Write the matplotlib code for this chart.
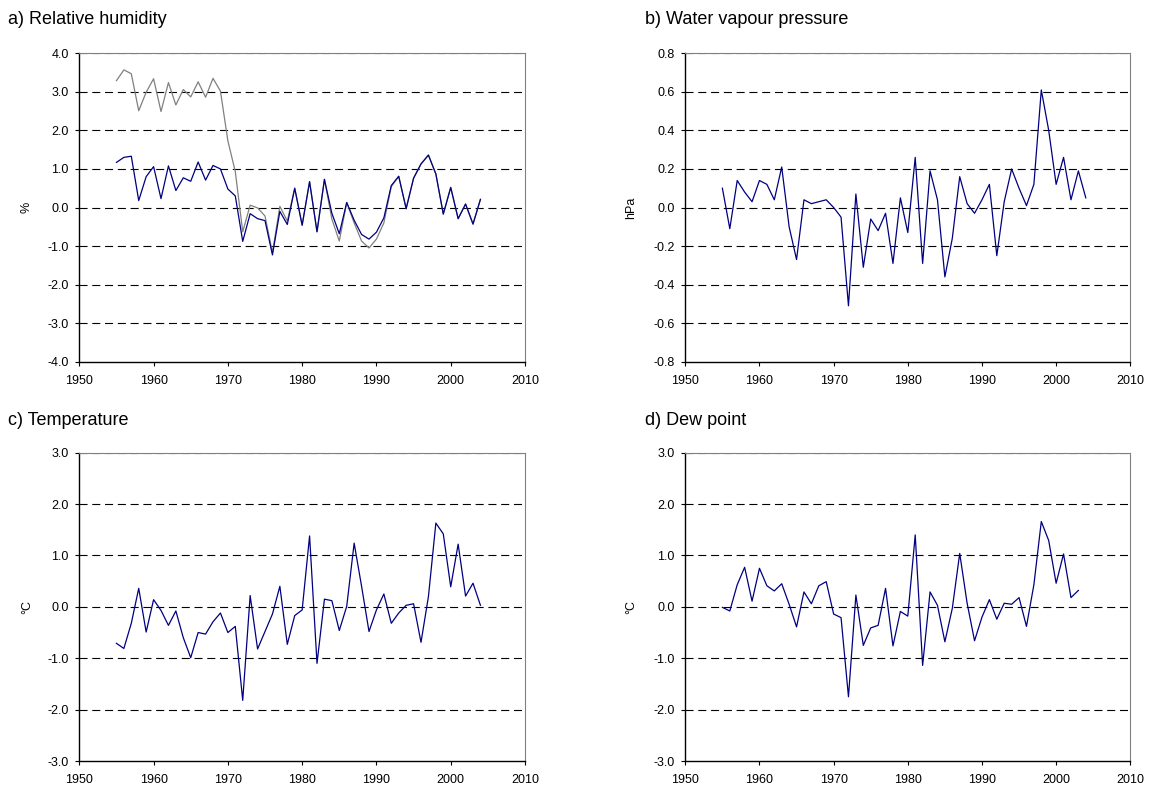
import matplotlib
matplotlib.use("Agg")
import matplotlib.pyplot as plt
import numpy as np

plt.rcParams['font.family'] = ['Liberation Sans', 'DejaVu Sans']
plt.rcParams['lines.scale_dashes'] = False

years = list(range(1955, 2005))
years_d = list(range(1955, 2004))

rh_adjusted = [1.17, 1.30, 1.33, 0.18, 0.80, 1.06, 0.23, 1.08, 0.44, 0.77,
               0.68, 1.18, 0.71, 1.09, 1.00, 0.48, 0.30, -0.88, -0.16, -0.29,
               -0.34, -1.23, -0.10, -0.44, 0.50, -0.46, 0.67, -0.63, 0.73, -0.15,
               -0.68, 0.13, -0.33, -0.70, -0.82, -0.64, -0.27, 0.57, 0.81, -0.03,
               0.76, 1.13, 1.36, 0.87, -0.17, 0.52, -0.29, 0.09, -0.43, 0.21]
rh_raw = [3.29, 3.57, 3.47, 2.51, 2.99, 3.34, 2.49, 3.24, 2.66, 3.06,
          2.87, 3.26, 2.86, 3.35, 3.02, 1.73, 0.93, -0.63, 0.06, -0.01,
          -0.22, -1.17, 0.03, -0.35, 0.50, -0.46, 0.67, -0.63, 0.73, -0.30,
          -0.87, 0.13, -0.40, -0.87, -1.05, -0.82, -0.40, 0.54, 0.81, -0.03,
          0.76, 1.13, 1.36, 0.87, -0.17, 0.52, -0.29, 0.09, -0.43, 0.21]
vp = [0.10, -0.11, 0.14, 0.08, 0.03, 0.14, 0.12, 0.04, 0.21, -0.10,
      -0.27, 0.04, 0.02, 0.03, 0.04, 0.00, -0.05, -0.51, 0.07, -0.31,
      -0.06, -0.12, -0.03, -0.29, 0.05, -0.13, 0.26, -0.29, 0.19, 0.04,
      -0.36, -0.16, 0.16, 0.02, -0.03, 0.04, 0.12, -0.25, 0.03, 0.20,
      0.10, 0.01, 0.12, 0.61, 0.40, 0.12, 0.26, 0.04, 0.19, 0.05]
temp = [-0.71, -0.81, -0.32, 0.36, -0.49, 0.14, -0.07, -0.36, -0.08, -0.60,
        -0.99, -0.50, -0.53, -0.29, -0.12, -0.50, -0.38, -1.82, 0.22, -0.82,
        -0.48, -0.14, 0.40, -0.73, -0.17, -0.06, 1.38, -1.10, 0.15, 0.12,
        -0.46, 0.01, 1.24, 0.40, -0.48, -0.06, 0.25, -0.32, -0.12, 0.03,
        0.06, -0.69, 0.20, 1.63, 1.42, 0.39, 1.22, 0.21, 0.46, 0.03]
dew = [-0.01, -0.08, 0.43, 0.77, 0.11, 0.75, 0.41, 0.31, 0.45, 0.05,
       -0.39, 0.29, 0.06, 0.41, 0.49, -0.14, -0.21, -1.75, 0.23, -0.75,
       -0.41, -0.36, 0.36, -0.76, -0.09, -0.18, 1.40, -1.14, 0.29, 0.03,
       -0.68, -0.03, 1.04, 0.07, -0.66, -0.20, 0.14, -0.24, 0.07, 0.05,
       0.18, -0.38, 0.43, 1.66, 1.29, 0.46, 1.03, 0.18, 0.32]

titles = ["a) Relative humidity", "b) Water vapour pressure", "c) Temperature", "d) Dew point"]
ylabels = ["%", "hPa", "\u00b0C", "\u00b0C"]

W, H = 1149, 790
fig = plt.figure(figsize=(W / 100, H / 100), dpi=100)

NAVY = "#000080"
GREY = "#808080"

def make_axes(left_px, top_px, right_px, bottom_px):
    return fig.add_axes([left_px / W, 1 - bottom_px / H,
                         (right_px - left_px) / W, (bottom_px - top_px) / H])

axes = [make_axes(79.3, 53.3, 525, 361.7),
        make_axes(685.3, 53.3, 1130.3, 361.7),
        make_axes(79.3, 452.7, 525, 761),
        make_axes(685.3, 452.7, 1130.3, 761)]

ylims = [(-4, 4, 1.0), (-0.8, 0.8, 0.2), (-3, 3, 1.0), (-3, 3, 1.0)]

for i, ax in enumerate(axes):
    lo, hi, step = ylims[i]
    ticks = np.round(np.arange(lo, hi + step / 2, step), 2) + 0.0
    ax.set_xlim(1950, 2010)
    ax.set_ylim(lo, hi)
    ax.set_xticks(range(1950, 2011, 10))
    ax.set_yticks(ticks)
    ax.set_yticklabels([f"{(t if abs(t) > 1e-9 else 0.0):.1f}" for t in ticks])
    for t in ticks[1:]:
        ax.axhline(t, color="black", lw=0.8, ls=(0, (5.8, 3.4)), zorder=1)
    ax.tick_params(axis="both", labelsize=9, direction="out", length=2.6,
                   width=0.8, color="black")
    ax.tick_params(axis="x", pad=7.0)
    ax.tick_params(axis="y", pad=5.0)
    for s in ("top", "right"):
        ax.spines[s].set_color(GREY)
        ax.spines[s].set_linewidth(0.8)
    for s in ("left", "bottom"):
        ax.spines[s].set_color("black")
        ax.spines[s].set_linewidth(1.0)
    ax.set_ylabel(ylabels[i], fontsize=9)
    ax.yaxis.set_label_coords(-0.104 if i % 2 == 0 else -0.108, 0.5)

axes[0].plot(years, rh_raw, color=GREY, lw=0.9, zorder=3)
axes[0].plot(years, rh_adjusted, color=NAVY, lw=0.9, zorder=4)
axes[1].plot(years, vp, color=NAVY, lw=0.9, zorder=4)
axes[2].plot(years, temp, color=NAVY, lw=0.9, zorder=4)
axes[3].plot(years_d, dew, color=NAVY, lw=0.9, zorder=4)

title_pos = [(8, 19), (645, 19), (8, 421), (645, 421)]
for (x, y), t in zip(title_pos, titles):
    fig.text(x / W, 1 - y / H, t, fontsize=13, ha="left", va="center")

fig.savefig("out.png", dpi=100)
